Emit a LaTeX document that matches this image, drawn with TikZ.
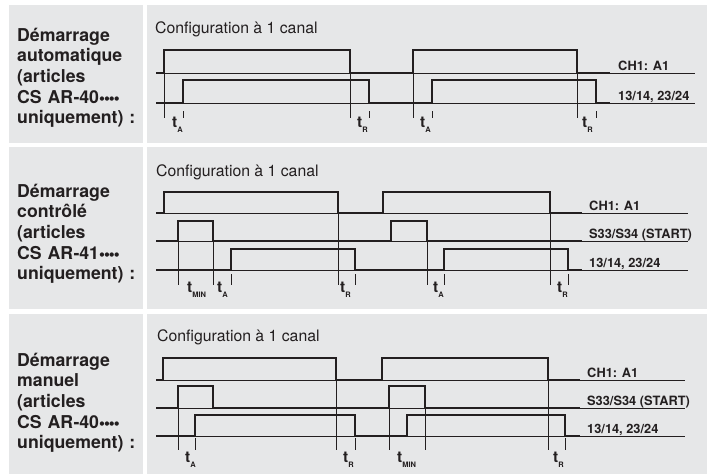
\documentclass[tikz,border=0pt]{standalone}
\usepackage{fontspec}
\setmainfont{TeX Gyre Heros}
\newfontfamily\dotfont{DejaVu Sans}

\definecolor{panelgray}{HTML}{E6E7E8}
\definecolor{inkblack}{HTML}{231F20}

\newcommand{\tsub}[1]{t\raisebox{-5pt}{\fontsize{7.5}{7.5}\selectfont #1}}
\newcommand{\refdots}{\kern0.6pt\raisebox{2.3pt}{\dotfont\fontsize{5.6}{6}\selectfont ●●●●}}

\begin{document}
\begin{tikzpicture}[x=1pt,y=-1pt,
  panel/.style={fill=panelgray},
  signal/.style={draw=inkblack,line width=2.8pt,line join=miter},
  level/.style={draw=inkblack,line width=0.7pt},
  timeline/.style={draw=inkblack,line width=0.7pt},
  mode/.style={anchor=base west,inner sep=0pt,text width=130pt,align=left,font=\fontsize{17.7}{20.7}\selectfont\bfseries,text=inkblack},
  config/.style={anchor=base west,inner sep=0pt,font=\fontsize{15.8}{18}\selectfont,text=inkblack},
  channel/.style={anchor=base west,inner sep=0pt,font=\fontsize{12.8}{15}\selectfont\bfseries,text=inkblack},
  delay/.style={anchor=base west,inner sep=0pt,font=\fontsize{15.5}{15}\selectfont\bfseries,text=inkblack}]
\useasboundingbox (0,0) rectangle (711,475);
\fill[white] (0,0) rectangle (711,475);
\fill[panel] (9,5) rectangle (143,143);
\fill[panel] (147,5) rectangle (707,143);
\fill[panel] (9,147) rectangle (143,309);
\fill[panel] (147,147) rectangle (707,309);
\fill[panel] (9,314) rectangle (143,474);
\fill[panel] (147,314) rectangle (707,474);

\node[mode] (modeAuto) at (17,41) {Démarrage\\automatique\\(articles\\CS AR-40\refdots\\uniquement) :};
\node[config] (cfgAuto) at (155,33) {Configuration à 1 canal};
\draw[level] (156,73) -- (695,73);
\draw[level] (156,103) -- (695,103);
\draw[signal] (156,73) -| (164,50) -| (350,73) -| (413,50) -| (577,73) -- (610,73);
\draw[signal] (156,103) -| (183,80) -| (369,103) -| (432,80) -| (596,103) -- (610,103);
\draw[timeline] (164,73) -- (164,118) (350,73) -- (350,118) (413,73) -- (413,118) (577,73) -- (577,118);
\draw[timeline] (183,111) -- (183,118) (369,111) -- (369,118) (432,111) -- (432,118) (596,111) -- (596,118);
\node[channel] (chAuto) at (618,70) {CH1: A1};
\node[channel] (outAuto) at (618,100) {13/14, 23/24};
\node[delay] (tAauto) at (172,127) {\tsub{A}};
\node[delay] (tRauto) at (357,127) {\tsub{R}};
\node[delay] (tAautoB) at (420,127) {\tsub{A}};
\node[delay] (tRautoB) at (582,127) {\tsub{R}};

\node[mode] (modeCtrl) at (17,197) {Démarrage\\contrôlé\\(articles\\CS AR-41\refdots\\uniquement) :};
\node[config] (cfgCtrl) at (156,176) {Configuration à 1 canal};
\draw[level] (156,213) -- (688,213);
\draw[level] (156,241) -- (688,241);
\draw[level] (156,270) -- (688,270);
\draw[signal] (156,213) -| (164,192) -| (338,213) -| (383,192) -| (550,213) -- (582,213);
\draw[signal] (156,241) -| (178,221) -| (213,241) -| (391,221) -| (427,241) -- (582,241);
\draw[signal] (156,270) -| (231,249) -| (355,270) -| (444,249) -| (568,270) -- (582,270);
\draw[timeline] (178,241) -- (178,285) (213,241) -- (213,285) (338,213) -- (338,285) (427,241) -- (427,285) (550,213) -- (550,285);
\draw[timeline] (231,274) -- (231,285) (355,274) -- (355,285) (444,274) -- (444,285) (568,274) -- (568,285);
\node[channel] (chCtrl) at (589,210) {CH1: A1};
\node[channel] (startCtrl) at (589,238) {S33/S34 (START)};
\node[channel] (outCtrl) at (589,267) {13/14, 23/24};
\node[delay] (tMINctrl) at (187,292) {\tsub{MIN}};
\node[delay] (tActrl) at (217,292) {\tsub{A}};
\node[delay] (tRctrl) at (340,292) {\tsub{R}};
\node[delay] (tActrlB) at (433,292) {\tsub{A}};
\node[delay] (tRctrlB) at (557,292) {\tsub{R}};

\node[mode] (modeMan) at (17,366) {Démarrage\\manuel\\(articles\\CS AR-40\refdots\\uniquement) :};
\node[config] (cfgMan) at (157,341) {Configuration à 1 canal};
\draw[level] (156,380) -- (685,380);
\draw[level] (156,408) -- (685,408);
\draw[level] (156,436) -- (685,436);
\draw[signal] (156,380) -| (163,358) -| (336,380) -| (382,358) -| (548,380) -- (580,380);
\draw[signal] (156,408) -| (178,386) -| (213,408) -| (389,386) -| (425,408) -- (580,408);
\draw[signal] (156,436) -| (195,415) -| (355,436) -| (407,415) -| (565,436) -- (580,436);
\draw[timeline] (178,408) -- (178,450) (336,380) -- (336,450) (389,408) -- (389,450) (425,408) -- (425,450) (548,380) -- (548,450);
\draw[timeline] (195,438) -- (195,450) (355,438) -- (355,450) (565,438) -- (565,450);
\node[channel] (chMan) at (587,377) {CH1: A1};
\node[channel] (startMan) at (587,405) {S33/S34 (START)};
\node[channel] (outMan) at (587,433) {13/14, 23/24};
\node[delay] (tAman) at (185,462) {\tsub{A}};
\node[delay] (tRman) at (343,462) {\tsub{R}};
\node[delay] (tMINman) at (397,462) {\tsub{MIN}};
\node[delay] (tRmanB) at (553,462) {\tsub{R}};
\end{tikzpicture}
\end{document}
